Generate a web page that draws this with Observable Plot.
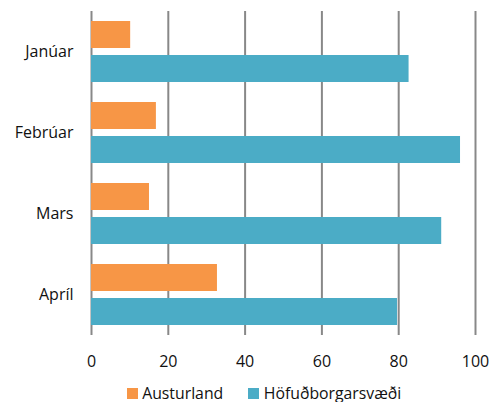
<!DOCTYPE html>
<html>
<head>
<meta charset="utf-8">
<script src="https://cdn.jsdelivr.net/npm/d3@7"></script>
<script src="https://cdn.jsdelivr.net/npm/@observablehq/plot@0.6"></script>
<style>
  html, body { margin: 0; padding: 0; background: #fff; }
  #chart { width: 501px; font-family: "Open Sans", sans-serif; }
  .legend { display: flex; justify-content: center; gap: 25px; font-size: 15.8px; line-height: 18px; height: 18px; color: #111; margin-top: 9px; padding-left: 27px; }
  .legend span.item { display: flex; align-items: center; gap: 4.5px; }
  .legend span.sw { width: 11px; height: 11px; display: inline-block; }
</style>
</head>
<body>
<div id="chart"></div>
<script>
const months = ["Janúar", "Febrúar", "Mars", "Apríl"];
const seriesNames = ["Austurland", "Höfuðborgarsvæði"];
const austurland = [10.2, 16.9, 15.1, 32.8];
const hofudborgarsvaedi = [82.7, 96.1, 91.2, 79.7];
const xTicks = [0, 20, 40, 60, 80, 100];
const colors = ["#F79646", "#4BACC6"];

const data = [];
months.forEach((m, i) => {
  data.push({month: m, series: seriesNames[0], value: austurland[i]});
  data.push({month: m, series: seriesNames[1], value: hofudborgarsvaedi[i]});
});

const plot = Plot.plot({
  width: 501,
  height: 375,
  marginTop: 11,
  marginBottom: 40,
  marginLeft: 91,
  marginRight: 26,
  style: {fontFamily: "'Open Sans', sans-serif", fontSize: "16px", color: "#111"},
  x: {domain: [0, 100], ticks: xTicks, label: null, tickSize: 0, tickPadding: 20},
  y: {domain: seriesNames, paddingInner: 0.206, paddingOuter: 0.294, axis: null},
  fy: {domain: months, padding: 0, label: null, tickSize: 0, tickPadding: 18},
  color: {domain: seriesNames, range: colors},
  marks: [
    Plot.ruleX(xTicks, {stroke: "#888", strokeWidth: 2}),
    Plot.barX(data, {fy: "month", y: "series", x: "value", fill: "series"})
  ]
});

const root = document.getElementById("chart");
root.appendChild(plot);

const legend = document.createElement("div");
legend.className = "legend";
seriesNames.forEach((s, i) => {
  const item = document.createElement("span");
  item.className = "item";
  const sw = document.createElement("span");
  sw.className = "sw";
  sw.style.background = colors[i];
  const t = document.createElement("span");
  t.textContent = s;
  item.appendChild(sw);
  item.appendChild(t);
  legend.appendChild(item);
});
root.appendChild(legend);
</script>
</body>
</html>
